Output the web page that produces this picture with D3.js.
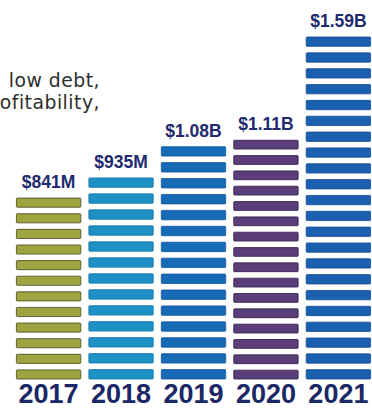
<!DOCTYPE html>
<html>
<head>
<meta charset="utf-8">
<script src="https://cdn.jsdelivr.net/npm/d3@7"></script>
<style>
  html, body { margin: 0; padding: 0; background: #fff; }
  svg { display: block; }
</style>
</head>
<body>
<div id="chart"></div>
<script>
// revenue by year, in billions
const years = ['2017', '2018', '2019', '2020', '2021']
const values = [0.841, 0.935, 1.08, 1.11, 1.59]
const valueLabels = ['$841M', '$935M', '$1.08B', '$1.11B', '$1.59B']
const introLines = ['low debt,', 'ofitability,']

const fills = ['#9ea43f', '#1d90c5', '#176ab6', '#5b3d7a', '#1b5fb0']
const strokes = ['#45461f', '#1877a8', '#13539a', '#2b1d45', '#154b8f']

const width = 372
const height = 408

const svg = d3.select('#chart')
  .append('svg')
  .attr('width', width)
  .attr('height', height)

const x = d3.scaleBand()
  .domain(years)
  .range([16, 371])
  .paddingInner(0.1)

const y = d3.scaleLinear()
  .domain([0, d3.max(values)])
  .range([379, 37])

// cut-off sentence at top left
svg.append('g')
  .selectAll('text')
  .data(introLines)
  .join('text')
  .attr('x', 100)
  .attr('y', (d, i) => 87 + i * 22)
  .attr('text-anchor', 'end')
  .style('font-family', '"DejaVu Sans", sans-serif')
  .style('font-size', '18.8px')
  .style('letter-spacing', '0.5px')
  .style('fill', '#2e2e2e')
  .text(d => d)

const gap = 6.5
const pitch = 15.5

const bars = svg.append('g')
  .selectAll('g')
  .data(values)
  .join('g')

// each bar is a stack of horizontal stripes
bars.each(function (d, i) {
  const top = y(d)
  const bottom = y(0)
  const n = Math.round((bottom - top + gap) / pitch)
  const step = (bottom - top + gap) / n
  d3.select(this)
    .selectAll('rect')
    .data(d3.range(n))
    .join('rect')
    .attr('x', x(years[i]) + 0.4)
    .attr('y', k => top + k * step)
    .attr('width', x.bandwidth() - 0.8)
    .attr('height', step - gap)
    .attr('rx', 0.8)
    .style('fill', fills[i])
    .style('stroke', strokes[i])
    .style('stroke-width', 0.8)
})

svg.append('g')
  .selectAll('text')
  .data(values)
  .join('text')
  .attr('x', (d, i) => x(years[i]) + x.bandwidth() / 2)
  .attr('y', d => y(d) - 10)
  .attr('text-anchor', 'middle')
  .style('font-family', '"Liberation Sans", Arial, sans-serif')
  .style('font-weight', 'bold')
  .style('font-size', '17.5px')
  .style('fill', '#1e2a6e')
  .text((d, i) => valueLabels[i])

const xAxis = svg.append('g')
  .attr('transform', `translate(0, ${y(0)})`)
  .call(d3.axisBottom(x).tickSize(0).tickPadding(0))

xAxis.select('.domain').remove()
xAxis.selectAll('text')
  .attr('dy', null)
  .attr('y', 24)
  .style('font-family', '"Liberation Sans", Arial, sans-serif')
  .style('font-weight', 'bold')
  .style('font-size', '27px')
  .style('fill', '#1c2766')
</script>
</body>
</html>
